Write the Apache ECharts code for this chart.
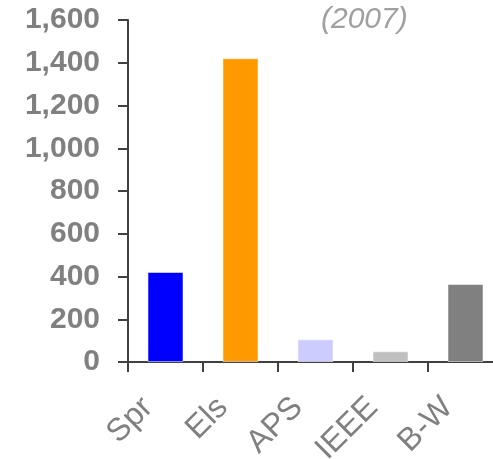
<!DOCTYPE html>
<html>
<head>
<meta charset="utf-8">
<script src="https://cdn.jsdelivr.net/npm/echarts@6/dist/echarts.min.js"></script>
<style>
  html, body { margin: 0; padding: 0; background: #fff; }
  #chart { width: 493px; height: 459px; }
</style>
</head>
<body>
<div id="chart"></div>
<script>
  const publishers = ['Spr', 'Els', 'APS', 'IEEE', 'B-W']
  const counts = [421, 1421, 106, 50, 365]
  const barColors = ['#0000ff', '#ff9900', '#ccccff', '#c0c0c0', '#808080']
  const yearNote = '(2007)'

  const chart = echarts.init(document.getElementById('chart'))
  chart.setOption({
    animation: false,
    title: {
      text: yearNote,
      left: 316,
      top: 0,
      textStyle: {
        fontFamily: 'Liberation Sans',
        fontStyle: 'italic',
        fontWeight: 'normal',
        fontSize: 30,
        color: '#a0a0a0'
      }
    },
    // the last category runs past the right edge, as in the original
    grid: { left: 128, width: 375, top: 20, bottom: 97, outerBoundsMode: 'none' },
    xAxis: {
      type: 'category',
      data: publishers,
      axisLine: { lineStyle: { color: '#404040', width: 2 } },
      axisTick: { show: true, length: 10, lineStyle: { color: '#404040', width: 2 } },
      axisLabel: {
        rotate: 45,
        fontFamily: 'Liberation Sans',
        fontSize: 32,
        color: '#808080',
        margin: 23,
        padding: [0, 25, 0, 0]
      }
    },
    yAxis: {
      type: 'value',
      min: 0,
      max: 1600,
      interval: 200,
      splitLine: { show: false },
      axisLine: { show: true, lineStyle: { color: '#404040', width: 2 } },
      axisTick: { show: true, length: 10, lineStyle: { color: '#404040', width: 2 } },
      axisLabel: {
        fontFamily: 'Liberation Sans',
        fontWeight: 'bold',
        fontSize: 30,
        color: '#808080',
        margin: 28,
        padding: [13, 0, 0, 0],
        formatter: v => v.toLocaleString('en-US')
      }
    },
    series: [{
      type: 'bar',
      barWidth: 36,
      data: counts.map((v, i) => ({
        value: v,
        itemStyle: { color: barColors[i], borderColor: 'rgba(255,255,255,0.5)', borderWidth: 1 }
      }))
    }]
  })
</script>
</body>
</html>
